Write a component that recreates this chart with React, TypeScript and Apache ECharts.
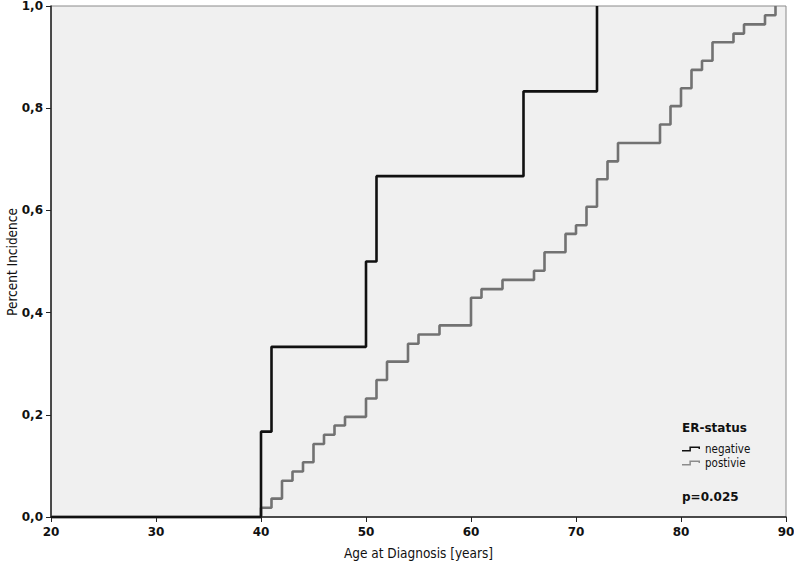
import React, { useEffect, useRef } from "react";
import * as echarts from "echarts";

const negAges = [20, 40, 41, 50, 51, 65, 72];
const negValues = [0, 0.167, 0.333, 0.5, 0.667, 0.833, 1.0];

const posAges = [20, 40, 41, 42, 43, 44, 45, 46, 47, 48, 50, 51, 52, 54, 55, 57, 60, 61, 63, 66, 67, 69, 70, 71, 72, 73, 74, 78, 79, 80, 81, 82, 83, 85, 86, 88, 89];
const posValues = [0, 0.018, 0.036, 0.071, 0.089, 0.107, 0.143, 0.161, 0.179, 0.196, 0.232, 0.268, 0.304, 0.339, 0.357, 0.375, 0.429, 0.446, 0.464, 0.482, 0.518, 0.554, 0.571, 0.607, 0.661, 0.696, 0.732, 0.768, 0.804, 0.839, 0.875, 0.893, 0.929, 0.946, 0.964, 0.982, 1.0];

const seriesNames = ["negative", "postivie"];
const legendTitle = "ER-status";
const pValueText = "p=0.025";
const xTitle = "Age at Diagnosis [years]";
const yTitle = "Percent Incidence";

const BOLD = "DejaVu Sans";
const COND = "DejaVu Sans Condensed, DejaVu Sans";

const stepIcon =
  "path://M0,35 L74,35 L74,0 L180,0 L180,25 L165,25 L165,15 L89,15 L89,50 L0,50 Z";

export default function App() {
  const ref = useRef<HTMLDivElement>(null);
  useEffect(() => {
    document.body.style.margin = "0";
    const chart = echarts.init(ref.current!, undefined, { renderer: "svg" });
    const negData = negAges.map((a, i) => [a, negValues[i]]);
    const posData = posAges.map((a, i) => [a, posValues[i]]);
    chart.setOption({
      animation: false,
      backgroundColor: "#ffffff",
      grid: {
        left: 51,
        right: 8,
        top: 6,
        bottom: 48,
        outerBoundsMode: "none",
        containLabel: false,
        show: true,
        backgroundColor: "#f0f0f0",
        borderColor: "#8a8a8a",
        borderWidth: 1,
      },
      xAxis: {
        type: "value",
        min: 20,
        max: 90,
        interval: 10,
        name: xTitle,
        nameLocation: "middle",
        nameGap: 29,
        nameTextStyle: { fontFamily: COND, fontSize: 13.5, color: "#111" },
        axisLine: { show: true, lineStyle: { color: "#222", width: 1.5 } },
        axisTick: { show: true, length: 5, lineStyle: { color: "#222", width: 1 } },
        axisLabel: { margin: 9, fontFamily: BOLD, fontWeight: "bold", fontSize: 12, color: "#111" },
        splitLine: { show: false },
      },
      yAxis: {
        type: "value",
        min: 0,
        max: 1,
        interval: 0.2,
        axisLine: { show: true, lineStyle: { color: "#222", width: 1.5 } },
        axisTick: { show: true, length: 5, lineStyle: { color: "#222", width: 1 } },
        axisLabel: {
          margin: 8,
          fontFamily: BOLD,
          fontWeight: "bold",
          fontSize: 12,
          color: "#111",
          formatter: (v: number) => v.toFixed(1).replace(".", ","),
        },
        splitLine: { show: false },
      },
      legend: {
        data: seriesNames,
        orient: "vertical",
        left: 682,
        top: 443,
        padding: 0,
        itemGap: 2,
        itemWidth: 18,
        itemHeight: 5,
        icon: stepIcon,
        textStyle: { fontFamily: COND, fontSize: 11.5, color: "#111", padding: [0, 0, 0, 0] },
      },
      graphic: [
        {
          type: "text",
          x: 12,
          y: 262,
          rotation: Math.PI / 2,
          style: {
            text: yTitle,
            fontFamily: COND,
            fontSize: 13.5,
            fill: "#111",
            align: "center",
            verticalAlign: "middle",
          },
        },
        {
          type: "text",
          left: 682,
          top: 422,
          style: { text: legendTitle, fontFamily: BOLD, fontWeight: "bold", fontSize: 12, fill: "#111" },
        },
        {
          type: "text",
          left: 682,
          top: 491,
          style: { text: pValueText, fontFamily: BOLD, fontWeight: "bold", fontSize: 12, fill: "#111" },
        },
      ],
      series: [
        {
          name: seriesNames[0],
          type: "line",
          step: "end",
          data: negData,
          showSymbol: false,
          symbol: "none",
          clip: false,
          z: 4,
          color: "#111111",
          lineStyle: { color: "#111111", width: 2.6 },
        },
        {
          name: seriesNames[1],
          type: "line",
          step: "end",
          data: posData,
          showSymbol: false,
          symbol: "none",
          clip: false,
          z: 3,
          color: "#8c8c8c",
          lineStyle: { color: "#727272", width: 2.6 },
        },
      ],
    });
    return () => chart.dispose();
  }, []);
  return <div ref={ref} style={{ width: 794, height: 565 }} />;
}
